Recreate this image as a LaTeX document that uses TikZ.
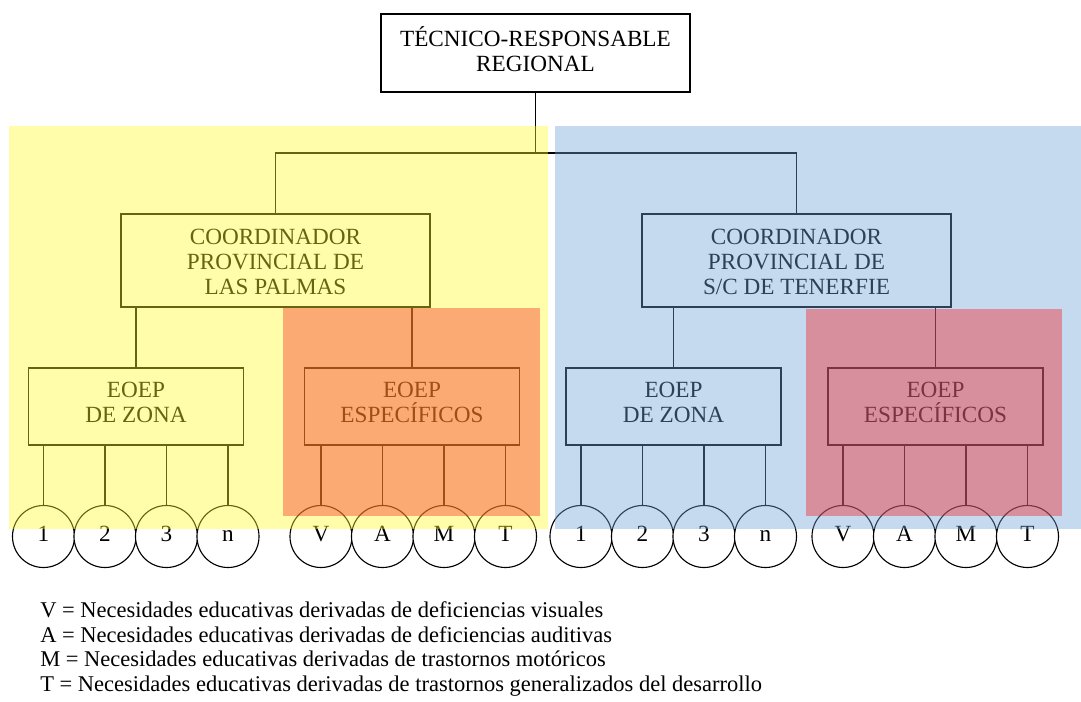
\documentclass[tikz,border=0pt]{standalone}
\usepackage{fontspec}
\setmainfont{Liberation Serif}
\usetikzlibrary{positioning}
\definecolor{zonyellow}{RGB}{255,250,43}
\definecolor{zonblue}{RGB}{112,160,217}
\definecolor{zonorange}{RGB}{245,46,33}
\definecolor{zonpink}{RGB}{245,32,35}

\begin{document}
\begin{tikzpicture}[x=0.025cm, y=-0.025cm, font=\fontsize{16.5}{17.7}\selectfont]
    \tikzset{orgbox/.style={rectangle, draw, line width=0.8pt, fill=white, minimum width=7.725cm},
      eoepbox/.style={rectangle, draw, line width=0.8pt, fill=white, minimum width=5.375cm,
      minimum height=1.925cm},
      unit/.style={circle, draw, line width=0.8pt, fill=white, minimum size=1.55cm, inner sep=0pt,
      text height=0.66em, text depth=0pt},
      txt/.style={align=center},
      link/.style={line width=0.8pt},
      shade/.style={fill opacity=0.4}}
    \useasboundingbox[fill=white] (0,0) rectangle (1081,702);

    % Top: regional head
    \node[orgbox, minimum height=1.95cm] (tec) at (535.5,53) {};
    \node[txt] at (535.5,49) {TÉCNICO-RESPONSABLE\\REGIONAL};

    % Provincial coordinators
    \node[orgbox, minimum height=2.325cm] (lp) at (275.5,260.5) {};
    \node[txt] at (275.5,262) {COORDINADOR\\PROVINCIAL DE\\LAS PALMAS};
    \node[orgbox, minimum height=2.325cm] (tf) at (796.5,260.5) {};
    \node[txt] at (796.5,262) {COORDINADOR\\PROVINCIAL DE\\S/C DE TENERFIE};

    \draw[link] (tec.south) -- (535.5,153) coordinate (bus);
    \draw[link] (bus) -| (lp.north);
    \draw[link] (bus) -| (tf.north);

    % EOEP teams
    \node[eoepbox] (lpz) at (136,406.5) {};
    \node[txt] at (136,402) {EOEP\\DE ZONA};
    \node[eoepbox] (lpe) at (412,406.5) {};
    \node[txt] at (412,402) {EOEP\\ESPECÍFICOS};
    \node[eoepbox] (tfz) at (673.5,406.5) {};
    \node[txt] at (673.5,402) {EOEP\\DE ZONA};
    \node[eoepbox] (tfe) at (935.5,406.5) {};
    \node[txt] at (935.5,402) {EOEP\\ESPECÍFICOS};

    \draw[link] (lp.south -| lpz.north) -- (lpz.north);
    \draw[link] (lp.south -| lpe.north) -- (lpe.north);
    \draw[link] (tf.south -| tfz.north) -- (tfz.north);
    \draw[link] (tf.south -| tfe.north) -- (tfe.north);

    % Units under each team
    \foreach \lbl [count=\i] in {1,2,3,n} {
      \node[unit] (lpz\i) at (43.5+61.5*\i-61.5,536.5) {\lbl};
      \draw[link] (lpz.south -| lpz\i.north) -- (lpz\i.north);
      \node[unit] (tfz\i) at (581+61.5*\i-61.5,536.5) {\lbl};
      \draw[link] (tfz.south -| tfz\i.north) -- (tfz\i.north);
    }
    \foreach \lbl [count=\i] in {V,A,M,T} {
      \node[unit] (lpe\i) at (321+61.5*\i-61.5,536.5) {\lbl};
      \draw[link] (lpe.south -| lpe\i.north) -- (lpe\i.north);
      \node[unit] (tfe\i) at (843+61.5*\i-61.5,536.5) {\lbl};
      \draw[link] (tfe.south -| tfe\i.north) -- (tfe\i.north);
    }

    % Shaded provinces
    \fill[shade, zonyellow] (9,126) rectangle (548,529);
    \fill[shade, zonblue] (555,126) rectangle (1081,529);
    \fill[shade, zonorange] (283,308) rectangle (540,516);
    \fill[shade, zonpink] (806,309) rectangle (1062,516);

    % Legend
    \node[anchor=north west, align=left, inner sep=0pt, font=\fontsize{16}{17.7}\selectfont] (key) at (40,601) {%
      V = Necesidades educativas derivadas de deficiencias visuales\\
      A = Necesidades educativas derivadas de deficiencias auditivas\\
      M = Necesidades educativas derivadas de trastornos motóricos\\
      T = Necesidades educativas derivadas de trastornos generalizados del desarrollo};
  \end{tikzpicture}
\end{document}
